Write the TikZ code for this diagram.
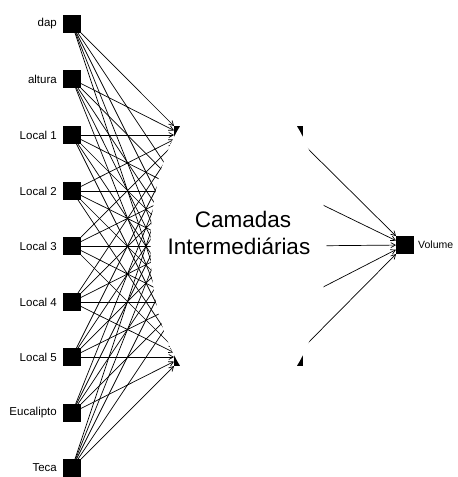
\documentclass[tikz,border=0pt]{standalone}
\usepackage{fontspec}
\setmainfont{Liberation Sans}
\usetikzlibrary{arrows.meta,shapes.geometric}
\begin{document}
\begin{tikzpicture}[x=1pt,y=-1pt,
  unit/.style={fill=black,minimum size=18pt,inner sep=0pt,outer sep=0pt},
  lbl/.style={font=\fontsize{11.5}{12}\selectfont,anchor=east,inner sep=0pt},
  wire/.style={line width=0.7pt,draw=black,-{Straight Barb[length=4.5pt,width=5pt]}},
  cover/.style={ellipse,fill=white,minimum width=176pt,minimum height=320pt,inner sep=0pt},
  big/.style={font=\fontsize{22.5}{27}\selectfont,anchor=base,inner sep=0pt}
  ]
\useasboundingbox (0,0) rectangle (458,477);
% hidden layers (mostly covered)
\foreach \i/\y in {1/135,2/191,3/246,4/302,5/357}{
  \node[unit] (h\i) at (183,\y) {};
  \node[unit] (g\i) at (294,\y) {};
}
% inputs
\foreach \i/\y/\txt in {1/24/dap,2/79/altura,3/135/Local 1,4/191/Local 2,5/246/Local 3,6/302/Local 4,7/357/Local 5,8/413/Eucalipto,9/468/Teca}{
  \node[unit] (in\i) at (72,\y) {};
  \node[lbl] (t\i) at (57,\y) {\txt};
}
\foreach \i in {1,...,9}{
  \foreach \j in {1,...,5}{
    \draw[wire] (in\i) -- (h\j);
  }
}
% output
\node[unit] (vol) at (405,245) {};
\node[font=\fontsize{10.5}{12}\selectfont,anchor=west,inner sep=0pt] (vl) at (418,245) {Volume};
\foreach \j in {1,...,5}{
  \draw[wire] (g\j) -- (vol);
}
% cover over the intermediate layers
\node[cover] (mask) at (238.5,246) {};
\node[big] (c1) at (243,227) {Camadas};
\node[big] (c2) at (239,254) {Intermediárias};
\end{tikzpicture}
\end{document}
